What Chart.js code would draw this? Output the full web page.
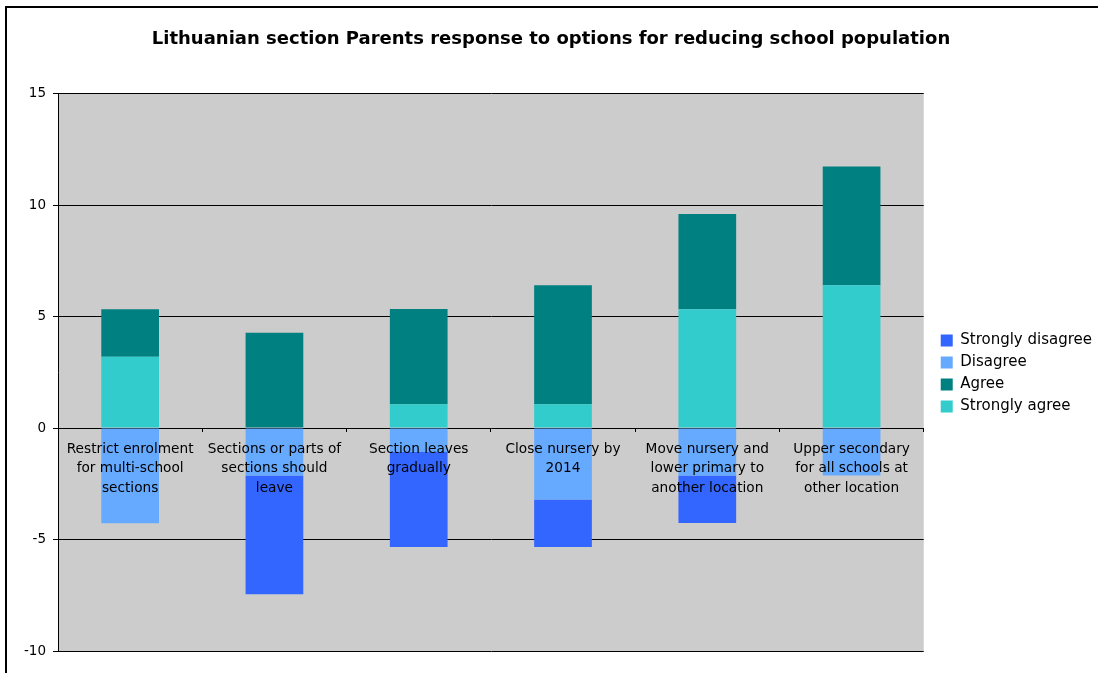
<!DOCTYPE html>
<html>
<head>
<meta charset="utf-8">
<script src="https://cdn.jsdelivr.net/npm/chart.js@4.4.1/dist/chart.umd.min.js"></script>
<style>
body { margin: 0; background: #fff; }
#wrap { position: relative; width: 1098px; height: 673px; overflow: hidden; }
#frame { position: absolute; left: 5px; top: 6px; width: 1200px; height: 800px;
  border-left: 2px solid #000; border-top: 2px solid #000; pointer-events: none; }
</style>
</head>
<body>
<div id="wrap">
  <canvas id="canvas" width="1098" height="673"></canvas>
  <div id="frame"></div>
</div>
<script>
const titleText = 'Lithuanian section Parents response to options for reducing school population';
const categories = [
    ['Restrict enrolment', 'for multi-school', 'sections'],
    ['Sections or parts of', 'sections should', 'leave'],
    ['Section leaves', 'gradually'],
    ['Close nursery by', '2014'],
    ['Move nursery and', 'lower primary to', 'another location'],
    ['Upper secondary', 'for all schools at', 'other location'],
];
// stacking goes by dataset index, so the ones nearest zero come first
const stronglyAgree = [3.2, 0, 1.07, 1.07, 5.33, 6.4];
const agree = [2.13, 4.27, 4.27, 5.33, 4.27, 5.33];
const disagree = [-4.27, -2.13, -1.07, -3.2, -2.13, -2.13];
const stronglyDisagree = [0, -5.33, -4.27, -2.13, -2.13, 0];
const yTicks = [-10, -5, 0, 5, 10, 15];

const fontFamily = "'DejaVu Sans', Verdana, sans-serif";

const plotBg = {
    id: 'plotBg',
    beforeDraw(chart) {
        const { ctx, chartArea } = chart;
        ctx.save();
        ctx.fillStyle = '#cccccc';
        ctx.fillRect(chartArea.left, chartArea.top, chartArea.right - chartArea.left, chartArea.bottom - chartArea.top);
        ctx.restore();
    },
};

new Chart('canvas', {
    type: 'bar',
    data: {
        labels: categories,
        datasets: [
            { label: 'Strongly agree', data: stronglyAgree, backgroundColor: '#33cccc' },
            { label: 'Agree', data: agree, backgroundColor: '#008080' },
            { label: 'Disagree', data: disagree, backgroundColor: '#66aaff' },
            { label: 'Strongly disagree', data: stronglyDisagree, backgroundColor: '#3366ff' },
        ],
    },
    options: {
        responsive: false,
        animation: false,
        devicePixelRatio: 1,
        categoryPercentage: 1,
        barPercentage: 0.4,
        layout: { padding: { left: 0, right: -4, top: 0, bottom: 22 } },
        plugins: {
            title: {
                display: true,
                text: titleText,
                color: '#000',
                font: { family: fontFamily, size: 18, weight: 'bold', lineHeight: 1.2 },
                padding: { top: 29, bottom: 43 },
            },
            legend: {
                position: 'right',
                reverse: true,
                title: {
                    // empty title, only pushes the items down
                    display: true,
                    text: ' ',
                    font: { size: 10, lineHeight: 1 },
                    padding: { top: 86, bottom: 0 },
                },
                labels: {
                    boxWidth: 12,
                    boxHeight: 12,
                    padding: 7,
                    color: '#000',
                    font: { family: fontFamily, size: 15 },
                },
            },
            tooltip: { enabled: false },
        },
        scales: {
            x: {
                stacked: true,
                position: { y: 0 },
                afterFit: (scale) => {
                    scale.height = 0;
                },
                grid: { drawOnChartArea: false, drawTicks: true, tickLength: 4, color: '#000' },
                border: { display: false },
                ticks: {
                    z: 1,
                    color: '#000',
                    padding: 8,
                    maxRotation: 0,
                    autoSkip: false,
                    font: { family: fontFamily, size: 13.7, lineHeight: 1.4 },
                },
            },
            y: {
                stacked: true,
                min: yTicks[0],
                max: yTicks[yTicks.length - 1],
                afterFit: (scale) => {
                    scale.width = 58;
                },
                afterBuildTicks: (scale) => {
                    scale.ticks = yTicks.map((v) => ({ value: v }));
                },
                grid: { color: '#000', tickLength: 5 },
                border: { color: '#000' },
                ticks: {
                    color: '#000',
                    padding: 7,
                    font: { family: fontFamily, size: 13.5 },
                },
            },
            gap: {
                // blank axis used as a gap between the plot and the legend
                position: 'right',
                display: true,
                afterFit: (scale) => {
                    scale.width = 10;
                },
                grid: { display: false },
                border: { display: false },
                ticks: { display: false },
            },
        },
    },
    plugins: [plotBg],
});
</script>
</body>
</html>
